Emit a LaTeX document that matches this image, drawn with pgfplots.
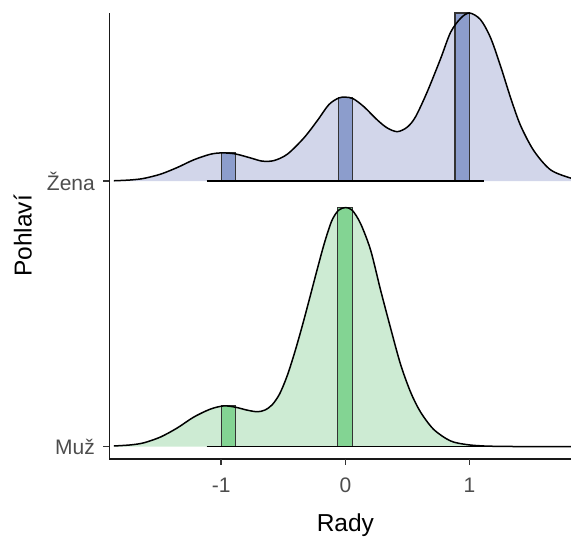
\documentclass[border=0pt]{standalone}
\usepackage{fontspec}
\setmainfont{Liberation Sans}
\usepackage{pgfplots}
\usepackage{pgfplotstable}
\pgfplotsset{compat=1.18}

\definecolor{zenaFill}{HTML}{D2D6EA}
\definecolor{zenaBar}{HTML}{8C9DCC}
\definecolor{muzFill}{HTML}{CDEBD3}
\definecolor{muzBar}{HTML}{83D493}
\definecolor{grey30}{HTML}{4D4D4D}
\definecolor{grey20}{HTML}{333333}

% density ridges: x, height above the group's baseline
\pgfplotstableread{
x h
-1.865 0.001
-1.731 0.004
-1.623 0.010
-1.488 0.026
-1.354 0.051
-1.221 0.080
-1.087 0.101
-0.992 0.106
-0.885 0.102
-0.764 0.087
-0.670 0.075
-0.576 0.077
-0.468 0.101
-0.335 0.162
-0.227 0.227
-0.133 0.288
-0.053 0.313
0.001 0.316
0.063 0.310
0.149 0.280
0.257 0.230
0.337 0.200
0.418 0.186
0.498 0.203
0.565 0.242
0.659 0.336
0.766 0.460
0.847 0.560
0.928 0.613
1.000 0.633
1.088 0.608
1.169 0.540
1.249 0.434
1.329 0.316
1.410 0.210
1.518 0.114
1.653 0.042
1.822 0.010
1.900 0.004
}\zena

\pgfplotstableread{
x h
-1.865 0.002
-1.731 0.006
-1.623 0.014
-1.488 0.036
-1.354 0.070
-1.221 0.111
-1.087 0.141
-0.979 0.153
-0.885 0.148
-0.791 0.137
-0.710 0.131
-0.650 0.137
-0.590 0.157
-0.530 0.198
-0.470 0.265
-0.410 0.352
-0.350 0.450
-0.290 0.555
-0.230 0.662
-0.170 0.765
-0.110 0.850
-0.055 0.890
0.001 0.900
0.055 0.890
0.122 0.840
0.203 0.740
0.283 0.590
0.364 0.446
0.444 0.310
0.525 0.205
0.605 0.130
0.712 0.064
0.847 0.021
0.981 0.007
1.115 0.002
1.250 0.0005
1.400 0.000
1.900 0.000
}\muz

\begin{document}
\begin{tikzpicture}
\begin{axis}[
  name=ax,
  scale only axis,
  width=471.8pt, height=446pt,
  xmin=-1.9, xmax=1.9,
  ymin=0.953, ymax=2.633,
  clip=false,
  axis x line*=bottom,
  axis y line*=left,
  axis line style={black!90, line width=1.6pt},
  xtick={-1,0,1},
  xticklabels={-1,0,1},
  ytick={1,2},
  yticklabels={Muž,Žena},
  xtick pos=bottom,
  ytick pos=left,
  xtick align=outside,
  ytick align=outside,
  major tick length=6pt,
  tick style={draw=grey20, line width=1.6pt},
  tick label style={font=\fontsize{21}{22}\selectfont, text=grey30, inner sep=0pt},
  xticklabel style={anchor=north, yshift=-13pt},
  yticklabel style={anchor=east, xshift=-8.5pt},
  xlabel={Rady},
  ylabel={Pohlaví},
  label style={font=\fontsize{24.5}{26}\selectfont, text=black},
  xlabel style={at={(axis description cs:0.5,-0.163)}, anchor=base},
  ylabel style={at={(axis description cs:-0.1649,0.5)}, anchor=base, rotate=0},
]
% Žena ridge: filled density closed down to its baseline
\addplot[fill=zenaFill, draw=none, smooth] table[x=x, y expr=\thisrow{h}+2] {\zena}
  -- (axis cs:1.9,2) -- (axis cs:-1.865,2) -- cycle;
\addplot[fill=zenaBar, draw=grey20, line width=1.2pt] coordinates {(-1.0,2) (-1.0,2.106) (-0.885,2.106) (-0.885,2)};
\addplot[fill=zenaBar, draw=grey20, line width=1.2pt] coordinates {(-0.058,2) (-0.058,2.316) (0.055,2.316) (0.055,2)};
\addplot[fill=zenaBar, draw=grey20, line width=1.2pt] coordinates {(0.882,2) (0.882,2.633) (1.0,2.633) (1.0,2)};
\addplot[black, line width=1.5pt, smooth] table[x=x, y expr=\thisrow{h}+2] {\zena};
\addplot[black, line width=1.5pt] coordinates {(-1.118,2) (1.113,2)};

% Muž ridge
\addplot[fill=muzFill, draw=none, smooth] table[x=x, y expr=\thisrow{h}+1] {\muz}
  -- (axis cs:1.9,1) -- (axis cs:-1.865,1) -- cycle;
\addplot[fill=muzBar, draw=grey20, line width=1.2pt] coordinates {(-0.997,1) (-0.997,1.153) (-0.885,1.153) (-0.885,1)};
\addplot[fill=muzBar, draw=grey20, line width=1.2pt] coordinates {(-0.061,1) (-0.061,1.900) (0.060,1.900) (0.060,1)};
\addplot[black, line width=1.5pt, smooth] table[x=x, y expr=\thisrow{h}+1] {\muz};
\addplot[black, line width=1.5pt] coordinates {(-1.118,1) (1.113,1)};

% tick positions on the axis lines
\coordinate (tx1) at (axis cs:-1,0.953);
\coordinate (tx2) at (axis cs:0,0.953);
\coordinate (tx3) at (axis cs:1,0.953);
\coordinate (ty1) at (axis cs:-1.9,1);
\coordinate (ty2) at (axis cs:-1.9,2);
\end{axis}
% outward tick marks
\begin{scope}[grey20, line width=1.6pt]
  \draw (tx1) -- ++(0,-6pt);
  \draw (tx2) -- ++(0,-6pt);
  \draw (tx3) -- ++(0,-6pt);
  \draw (ty1) -- ++(-6pt,0);
  \draw (ty2) -- ++(-6pt,0);
\end{scope}
\pgfresetboundingbox
\useasboundingbox ([xshift=-109.5pt,yshift=-78pt]ax.south west) rectangle ([xshift=461.5pt,yshift=13pt]ax.north west);
\end{tikzpicture}
\end{document}
